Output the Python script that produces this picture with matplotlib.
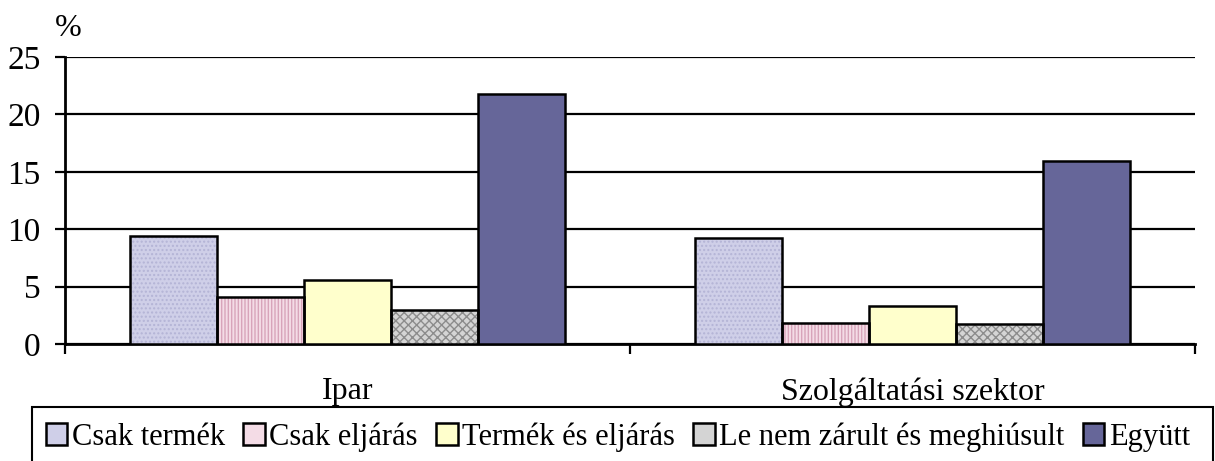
import matplotlib
matplotlib.use("Agg")
import matplotlib.pyplot as plt
import matplotlib.patches as mpatches
import numpy as np

plt.rcParams["font.family"] = ["Liberation Serif", "DejaVu Serif"]

categories = ["Ipar", "Szolgáltatási szektor"]
series = ["Csak termék", "Csak eljárás", "Termék és eljárás",
          "Le nem zárult és meghiúsult", "Együtt"]
values = {
    "Csak termék":                 [9.4, 9.2],
    "Csak eljárás":                [4.1, 1.8],
    "Termék és eljárás":           [5.6, 3.3],
    "Le nem zárult és meghiúsult": [3.0, 1.7],
    "Együtt":                      [21.8, 15.9],
}

# face colour, hatch, hatch colour
STYLE = {
    "Csak termék":                 ("#CFCFE8", "....", "#B4B4D6"),
    "Csak eljárás":                ("#F4DCE6", "|||||", "#D8A4BA"),
    "Termék és eljárás":           ("#FFFFCC", None, None),
    "Le nem zárult és meghiúsult": ("#D4D4D4", "xxxx", "#8C8C8C"),
    "Együtt":                      ("#666699", None, None),
}

W, H = 1215, 461
fig = plt.figure(figsize=(W / 100, H / 100), dpi=100)
ax = fig.add_axes([65 / W, 1 - 344 / H, 1130 / W, 287 / H])

x = np.arange(len(categories))
bw = 0.154
for i, name in enumerate(series):
    face, hatch, hcol = STYLE[name]
    pos = x + (i - 2) * bw
    if hatch:
        ax.bar(pos, values[name], bw, color=face, hatch=hatch,
               edgecolor=hcol, linewidth=0, zorder=3)
    else:
        ax.bar(pos, values[name], bw, color=face, linewidth=0, zorder=3)
    ax.bar(pos, values[name], bw, fill=False, edgecolor="black",
           linewidth=1.8, zorder=4)

ax.set_xlim(-0.5, 1.5)
ax.set_ylim(0, 25)
ax.set_yticks(range(0, 26, 5))
ax.yaxis.grid(True, color="black", linewidth=1.6, zorder=0)
ax.set_axisbelow(True)

ax.set_xticks([-0.5, 0.5, 1.5])
ax.set_xticklabels([])
ax.set_xticks(x, minor=True)
ax.set_xticklabels(categories, minor=True)
ax.tick_params(axis="x", which="major", direction="out", length=7, width=1.6)
ax.tick_params(axis="x", which="minor", length=0, pad=24, labelsize=23)
ax.tick_params(axis="y", direction="out", length=7.5, width=1.6, pad=10,
               labelsize=24)

for s in ["top", "right"]:
    ax.spines[s].set_visible(False)
for s in ["left", "bottom"]:
    ax.spines[s].set_linewidth(2)

fig.text(55 / W, 1 - 28 / H, "%", fontsize=23, va="center", ha="left")

# legend frame, running off the bottom edge
fig.patches.append(mpatches.Rectangle((32 / W, -0.1), (1213 - 32) / W,
                                      0.1 + 1 - 407 / H, transform=fig.transFigure,
                                      fill=False, edgecolor="black", linewidth=1.5))
handles = [mpatches.Patch(facecolor=STYLE[n][0], edgecolor="black", linewidth=1.8)
           for n in series]
fig.legend(handles, series, loc="center left",
           bbox_to_anchor=(46 / W, 1 - 437 / H), ncol=5, frameon=False,
           fontsize=22, handlelength=0.7, handleheight=0.7,
           handletextpad=0.15, columnspacing=0.6, borderpad=0, borderaxespad=0)

fig.savefig("out.png", dpi=100)
